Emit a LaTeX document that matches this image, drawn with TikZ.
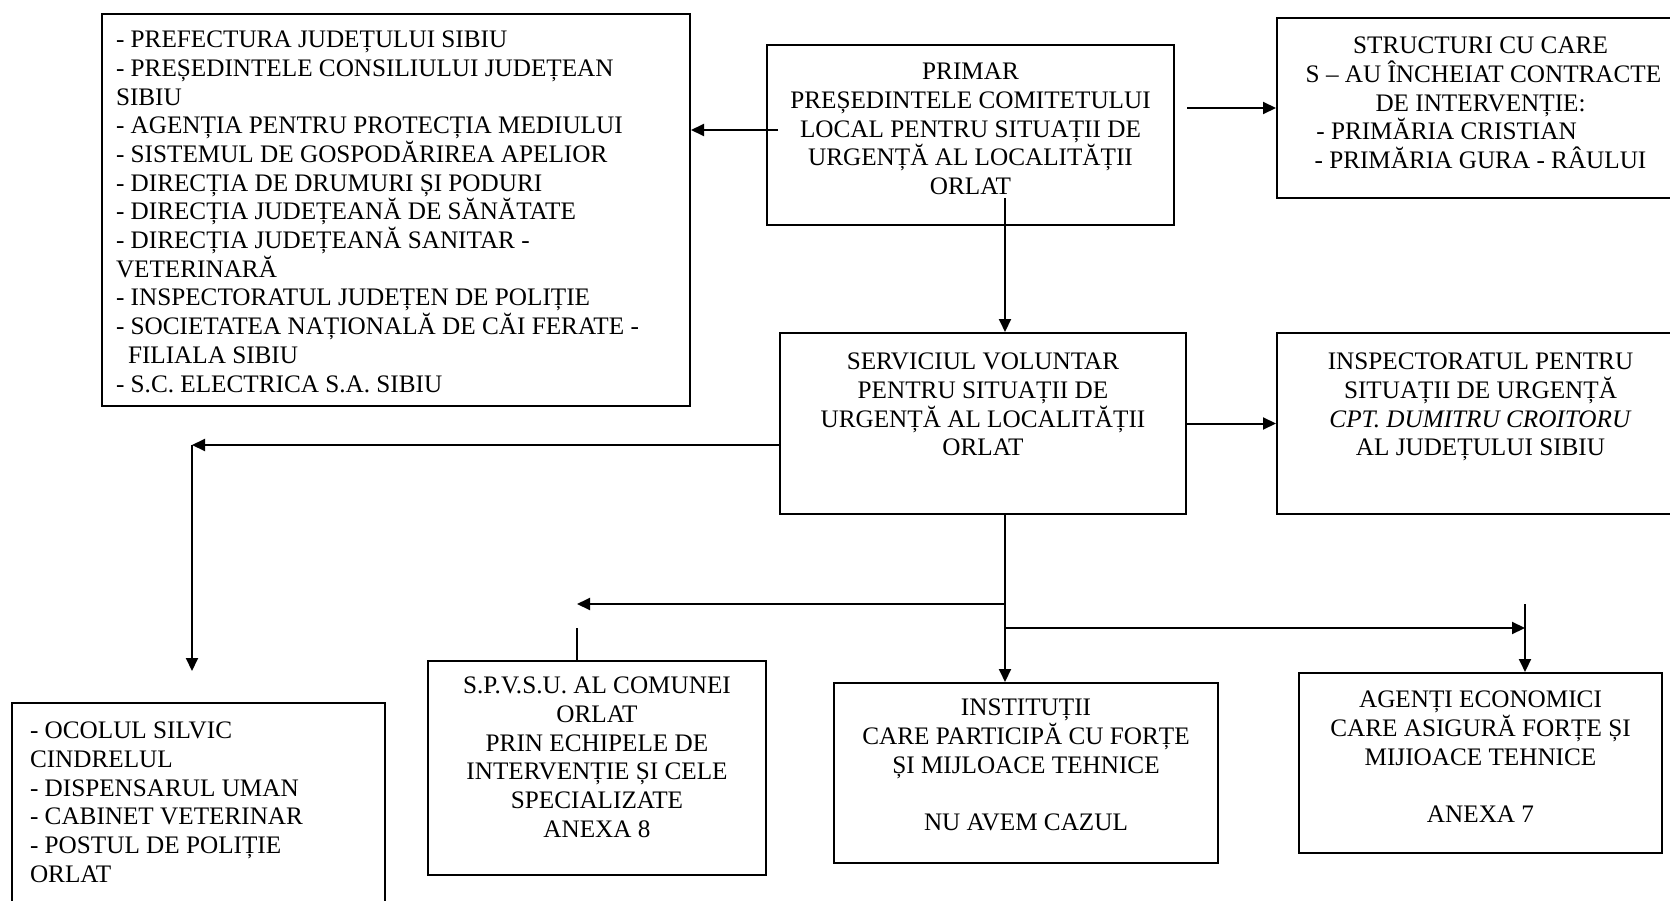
\documentclass[tikz,border=0pt]{standalone}
\usepackage{fontspec}
\setmainfont{Liberation Serif}
\usetikzlibrary{arrows.meta,calc}

\newcommand{\lefttext}[3]{\parbox[t][#2pt][t]{#1pt}{\raggedright #3}}
\newcommand{\midtext}[3]{\parbox[t][#2pt][t]{#1pt}{\centering #3}}

\begin{document}
\begin{tikzpicture}[x=1pt,y=-1pt,
        box/.style={draw,line width=2pt,anchor=north west,inner xsep=10pt,
            font=\fontsize{25.2}{28.7}\selectfont},
        link/.style={line width=2pt},
        arr/.style={link,-{Triangle[length=13pt,width=12pt]}}]
    \useasboundingbox (0,0) rectangle (1670,901);

    \node[box,inner xsep=14pt,inner ysep=13pt] (prefect) at (101,13) {\lefttext{560}{366}{%
        \vspace*{4pt}
        - PREFECTURA JUDEȚULUI SIBIU\\
        - PREȘEDINTELE CONSILIULUI JUDEȚEAN\\
        SIBIU\\
        - AGENȚIA PENTRU PROTECȚIA MEDIULUI\\
        - SISTEMUL DE GOSPODĂRIREA APELIOR\\
        - DIRECȚIA DE DRUMURI ȘI PODURI\\
        - DIRECȚIA JUDEȚEANĂ DE SĂNĂTATE\\
        - DIRECȚIA JUDEȚEANĂ SANITAR -\\
        VETERINARĂ\\
        - INSPECTORATUL JUDEȚEN DE POLIȚIE\\
        - SOCIETATEA NAȚIONALĂ DE CĂI FERATE -\\
        \hspace*{12pt}FILIALA SIBIU\\
        - S.C. ELECTRICA S.A. SIBIU}};
    \node[box,inner ysep=18pt] (primar) at (766,44) {\midtext{387}{144}{%
        PRIMAR\\
        PREȘEDINTELE COMITETULUI\\
        LOCAL PENTRU SITUAȚII DE\\
        URGENȚĂ AL LOCALITĂȚII\\
        ORLAT}};
    \node[box,inner ysep=19pt] (structuri) at (1276,17) {\midtext{387}{142}{%
        STRUCTURI CU CARE\\
        \hspace*{6pt}S – AU ÎNCHEIAT CONTRACTE\\
        DE INTERVENȚIE:\\
        \mbox{- PRIMĂRIA CRISTIAN\hspace{68pt}}\\
        - PRIMĂRIA GURA - RÂULUI}};
    \node[box,inner ysep=20pt] (serviciul) at (779,332) {\midtext{386}{141}{%
        SERVICIUL VOLUNTAR\\
        PENTRU SITUAȚII DE\\
        URGENȚĂ AL LOCALITĂȚII\\
        ORLAT}};
    \node[box,inner ysep=20pt] (inspect) at (1276,332) {\midtext{387}{141}{%
        INSPECTORATUL PENTRU\\
        SITUAȚII DE URGENȚĂ\\
        \textit{CPT. DUMITRU CROITORU}\\
        AL JUDEȚULUI SIBIU}};
    \node[box,inner xsep=18pt,inner ysep=19pt] (locale) at (11,702) {\lefttext{337}{192}{%
        - OCOLUL SILVIC\\
        CINDRELUL\\
        - DISPENSARUL UMAN\\
        - CABINET VETERINAR\\
        - POSTUL DE POLIȚIE\\
        ORLAT}};
    \node[box,inner ysep=16pt] (spvsu) at (427,660) {\midtext{318}{182}{%
        S.P.V.S.U. AL COMUNEI\\
        ORLAT\\
        PRIN ECHIPELE DE\\
        INTERVENȚIE ȘI CELE\\
        SPECIALIZATE\\
        ANEXA 8}};
    \node[box,inner ysep=16pt] (institutii) at (833,682) {\midtext{364}{148}{%
        INSTITUȚII\\
        CARE PARTICIPĂ CU FORȚE\\
        ȘI MIJLOACE TEHNICE\\[28.7pt]
        NU AVEM CAZUL}};
    \node[box,inner ysep=18pt] (agenti) at (1298,672) {\midtext{343}{144}{%
        AGENȚI ECONOMICI\\
        CARE ASIGURĂ FORȚE ȘI\\
        MIJIOACE TEHNICE\\[28.7pt]
        ANEXA 7}};

    \coordinate (top) at (1005,198);
    \coordinate (lc) at (192,445);
    \coordinate (ld) at (192,671);
    \coordinate (bl) at (1005,604);
    \coordinate (br) at (1005,628);
    \coordinate (ar) at (1525,604);

    \draw[arr] ([xshift=12pt,yshift=5pt]primar.west) coordinate (p1) -- (p1 -| prefect.east);
    \draw[arr] ([xshift=12pt]primar.east |- structuri.west) -- (structuri.west);
    \draw[arr] (top) -- (top |- serviciul.north);
    \draw[arr] (serviciul.east) -- (inspect.west);
    \draw[arr] (lc -| serviciul.west) -- (lc);
    \draw[arr] (lc) -- (ld);
    \draw[arr] (top |- serviciul.south) -- (top |- institutii.north);
    \draw[arr] (bl) -- (bl -| {$(spvsu.north)+(-20,0)$});
    \draw[link] ([xshift=-20pt]spvsu.north) -- ++(0,-32);
    \draw[arr] (br) -- (br -| ar);
    \draw[arr] (ar) -- (ar |- agenti.north);
\end{tikzpicture}
\end{document}
